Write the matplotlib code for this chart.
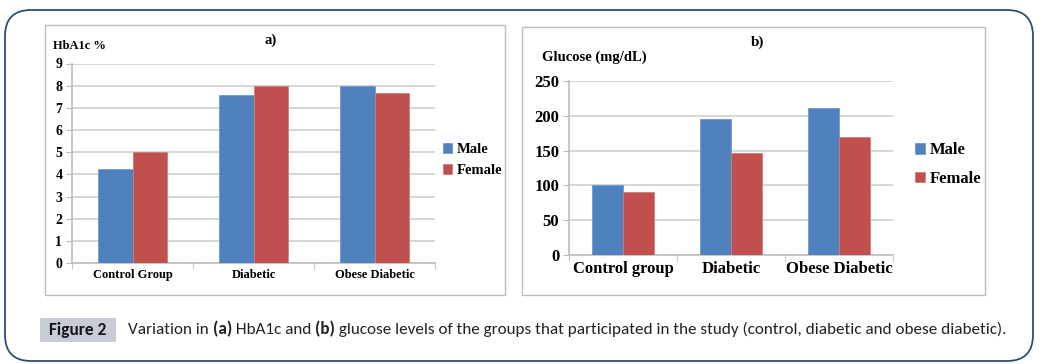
import matplotlib
matplotlib.use("Agg")
import matplotlib.pyplot as plt
import numpy as np
from matplotlib import font_manager
from matplotlib.patches import FancyBboxPatch, Rectangle

# data
groups_a = ["Control Group", "Diabetic", "Obese Diabetic"]
hba1c_male = [4.25, 7.6, 8.0]
hba1c_female = [5.0, 8.0, 7.65]

groups_b = ["Control group", "Diabetic", "Obese Diabetic"]
glucose_male = [100, 196, 211]
glucose_female = [90, 147, 169]

series = ["Male", "Female"]
colors = ["#4F81BD", "#C0504D"]

W, H = 1045, 364
serif = "Liberation Serif"
names = {f.name for f in font_manager.fontManager.ttflist}
cap_font = "DejaVu Sans"
for cand in ["Carlito", "Liberation Sans Narrow", "Roboto Condensed", "Open Sans", "Lato"]:
    if cand in names:
        cap_font = cand
        break

fig = plt.figure(figsize=(W / 100, H / 100), dpi=100)

# background layer in pixel units
bg = fig.add_axes([0, 0, 1, 1])
bg.set_xlim(0, W)
bg.set_ylim(H, 0)
bg.axis("off")
bg.add_patch(FancyBboxPatch((5, 10), 1028, 351, boxstyle="round,pad=0,rounding_size=26",
                            fc="white", ec="#2E4E74", lw=1.3))
bg.add_patch(Rectangle((45, 25), 460, 270, fc="white", ec="#BDBDBD", lw=1))
bg.add_patch(Rectangle((522, 27), 463, 268, fc="white", ec="#BDBDBD", lw=1))


def px_axes(left, top, right, bottom):
    return fig.add_axes([left / W, 1 - bottom / H, (right - left) / W, (bottom - top) / H])


def bar_panel(ax, cats, male, female, ymax, step, tick_fs, cat_fs):
    x = np.arange(len(cats))
    w = 0.285
    ax.bar(x - w / 2, male, w, color=colors[0], edgecolor="#6F9AD0", lw=0.6, label=series[0], zorder=3)
    ax.bar(x + w / 2, female, w, color=colors[1], edgecolor="#D87A78", lw=0.6, label=series[1], zorder=3)
    ax.set_xlim(-0.5, len(cats) - 0.5)
    ax.set_ylim(0, ymax)
    ax.set_yticks(np.arange(0, ymax + step / 2, step))
    ax.grid(axis="y", color="#D0D0D0", lw=1.2, zorder=0)
    for s in ["top", "right"]:
        ax.spines[s].set_visible(False)
    for s in ["left", "bottom"]:
        ax.spines[s].set_color("#BDBDBD")
        ax.spines[s].set_linewidth(1.2)
    ax.set_xticks(x)
    ax.set_xticklabels(cats, fontfamily=serif, fontweight="bold", fontsize=cat_fs)
    ax.set_xticks(np.arange(-0.5, len(cats)), minor=True)
    ax.tick_params(axis="x", which="major", length=0, pad=4)
    ax.tick_params(axis="x", which="minor", length=4, color="#BDBDBD")
    ax.tick_params(axis="y", length=4, color="#BDBDBD", labelsize=tick_fs, pad=3)
    for t in ax.get_yticklabels():
        t.set_fontfamily(serif)
        t.set_fontweight("bold")


ax1 = px_axes(72, 63.5, 435, 263)
bar_panel(ax1, groups_a, hba1c_male, hba1c_female, 9, 1, 10, 9)
bg.text(53, 46, "HbA1c %", fontfamily=serif, fontweight="bold", fontsize=9, va="center")
bg.text(271, 40, "a)", fontfamily=serif, fontweight="bold", fontsize=10.5, ha="center", va="center")
ax1.legend(loc="center left", bbox_to_anchor=(0.985, 0.515), frameon=False,
           prop={"family": serif, "weight": "bold", "size": 10.5},
           handlelength=0.65, handleheight=0.65, handletextpad=0.3, labelspacing=0.55)

ax2 = px_axes(569, 81, 893, 255)
bar_panel(ax2, groups_b, glucose_male, glucose_female, 250, 50, 12, 12)
bg.text(542, 57, "Glucose (mg/dL)", fontfamily=serif, fontweight="bold", fontsize=10.5, va="center")
bg.text(758, 42, "b)", fontfamily=serif, fontweight="bold", fontsize=11, ha="center", va="center")
ax2.legend(loc="center left", bbox_to_anchor=(1.022, 0.52), frameon=False,
           prop={"family": serif, "weight": "bold", "size": 12},
           handlelength=0.6, handleheight=0.6, handletextpad=0.3, labelspacing=0.75)

# caption
bg.add_patch(Rectangle((40, 318), 76, 24, fc="#C8CDD5", ec="none"))
fig_label = bg.text(78, 330, "Figure 2", fontfamily=cap_font, fontweight="bold", fontsize=12.5,
                    color="#15151F", ha="center", va="center")
pieces = [("Variation in ", "normal"), ("(a)", "bold"), (" HbA1c and ", "normal"), ("(b)", "bold"),
          (" glucose levels of the groups that participated in the study (control, diabetic and obese diabetic).",
           "normal")]
cap_texts = [bg.text(128, 330, pieces[0][0], fontfamily=cap_font, fontsize=11.5, color="#222222",
                     va="center", ha="left")]
for txt, wt in pieces[1:]:
    cap_texts.append(bg.annotate(txt, xy=(1, 0), xycoords=cap_texts[-1], va="bottom", ha="left",
                                 fontfamily=cap_font, fontweight=wt, fontsize=11.5, color="#222222"))

# size the caption so it spans the same width as the reference line
fig.canvas.draw()
r = fig.canvas.get_renderer()
x0 = cap_texts[0].get_window_extent(r).x0
x1 = cap_texts[-1].get_window_extent(r).x1
scale = 884 / (x1 - x0)
for t in cap_texts:
    t.set_fontsize(11.5 * scale)

fig.savefig("out.png", dpi=100)
